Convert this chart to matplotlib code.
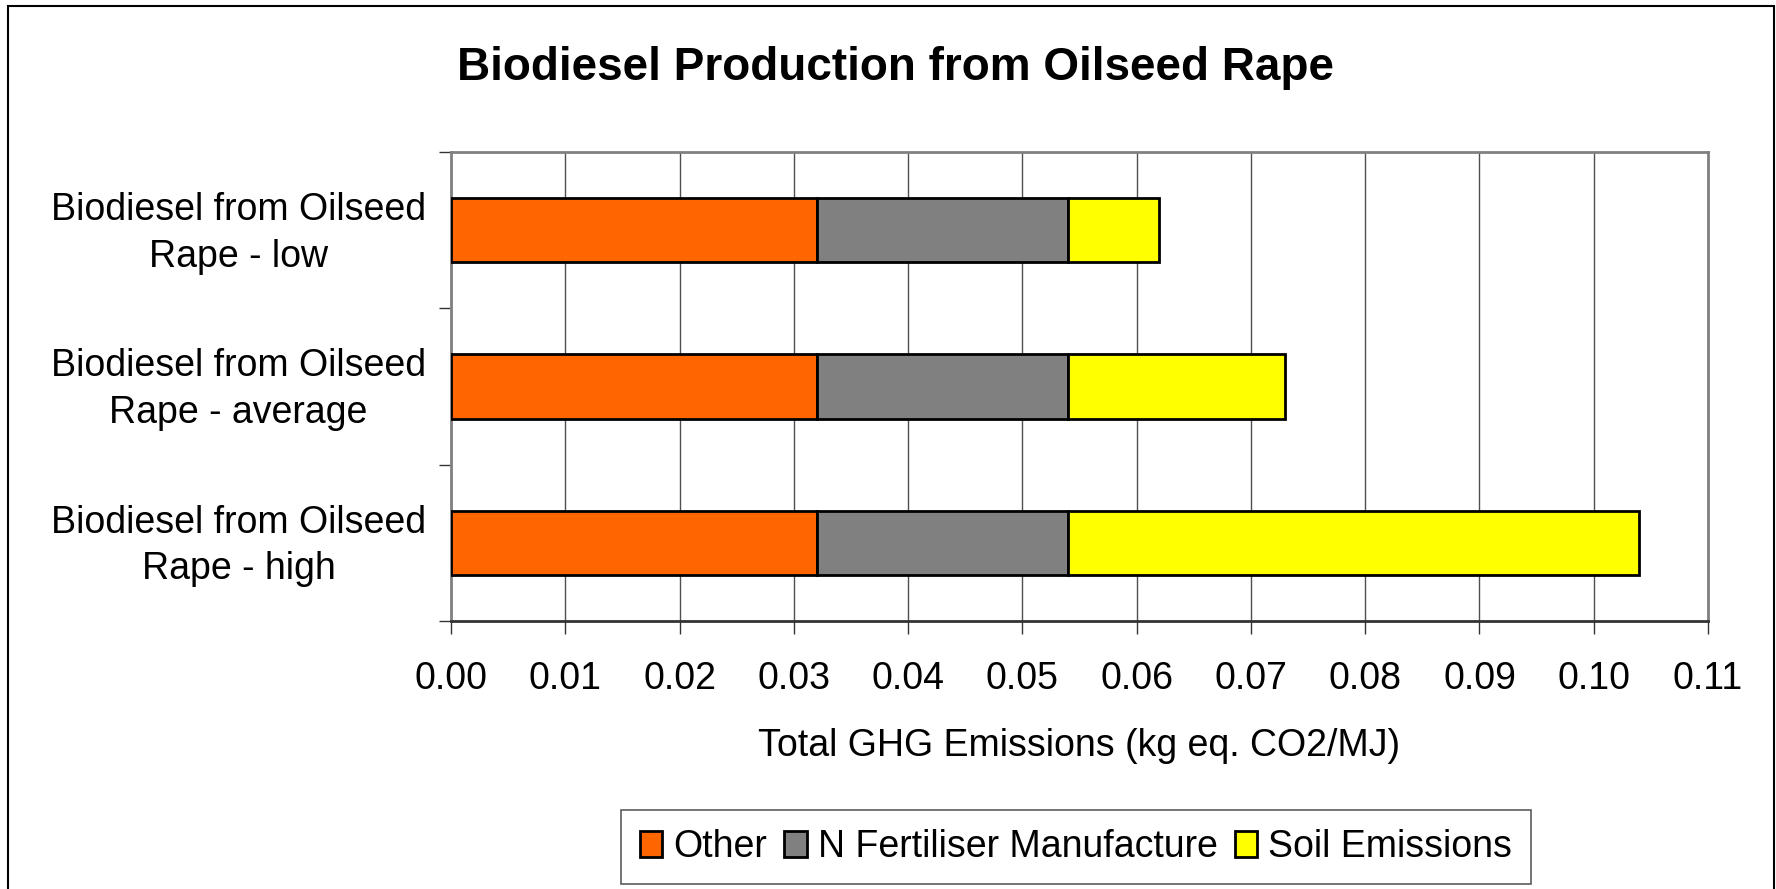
import matplotlib
matplotlib.use("Agg")
import matplotlib.pyplot as plt
import matplotlib.transforms as mtransforms
import numpy as np

plt.rcParams['font.family'] = ['Liberation Sans', 'DejaVu Sans']

categories = ["Biodiesel from Oilseed\nRape - low",
              "Biodiesel from Oilseed\nRape - average",
              "Biodiesel from Oilseed\nRape - high"]
series_names = ["Other", "N Fertiliser Manufacture", "Soil Emissions"]
other = [0.032, 0.032, 0.032]
n_fert = [0.022, 0.022, 0.022]
soil = [0.008, 0.019, 0.050]
colors = ["#FF6600", "#808080", "#FFFF00"]
xticks = [0.00, 0.01, 0.02, 0.03, 0.04, 0.05, 0.06, 0.07, 0.08, 0.09, 0.10, 0.11]

W, H = 1776, 889
fig = plt.figure(figsize=(W / 100, H / 100), dpi=100)
ax = fig.add_axes([451 / W, 1 - 621 / H, (1708 - 451) / W, (621 - 152) / H])

y = np.arange(len(categories))[::-1]
left = np.zeros(len(categories))
for name, vals, c in zip(series_names, [other, n_fert, soil], colors):
    ax.barh(y, vals, left=left, height=0.41, color=c, edgecolor='black',
            linewidth=2.0, label=name, zorder=3)
    left = left + np.array(vals)

ax.set_xlim(0, 0.11)
ax.set_ylim(-0.5, len(categories) - 0.5)
ax.set_xticks(xticks)
ax.set_xticklabels([f"{v:.2f}" for v in xticks], fontsize=27)
ax.tick_params(axis='x', direction='out', length=9, width=1, color='#333333', pad=20)

ax.set_yticks(np.arange(len(categories) + 1) - 0.5)
ax.set_yticklabels([])
ax.tick_params(axis='y', which='major', direction='out', length=9, width=1, color='#333333')
ax.set_yticks(y, minor=True)
ax.set_yticklabels(categories, minor=True, fontsize=27, ha='center', linespacing=1.38)
ax.tick_params(axis='y', which='minor', length=0, pad=153)
shift = mtransforms.ScaledTranslation(0, 0.06, fig.dpi_scale_trans)
for lab in ax.get_yticklabels(minor=True):
    lab.set_transform(lab.get_transform() + shift)

ax.xaxis.grid(True, color='#505050', linewidth=1.0, zorder=0)
ax.set_axisbelow(True)

for s in ['top', 'right', 'left']:
    ax.spines[s].set_color('#808080')
    ax.spines[s].set_linewidth(2)
ax.spines['bottom'].set_color('#333333')
ax.spines['bottom'].set_linewidth(2)

ax.set_xlabel("Total GHG Emissions (kg eq. CO2/MJ)", fontsize=27, va='center')
ax.xaxis.set_label_coords(0.5, (621 - 746) / (621 - 152))

fig.text(895 / W, 1 - 68 / H, "Biodiesel Production from Oilseed Rape",
         fontsize=33, fontweight='bold', ha='center', va='center')

leg = fig.legend(loc='center', bbox_to_anchor=(1076 / W, 1 - 847 / H), ncol=3,
                 fontsize=27, frameon=True, fancybox=False, edgecolor='#333333',
                 handlelength=0.6, handleheight=0.7, handletextpad=0.3,
                 columnspacing=0.45, borderpad=0.5, borderaxespad=0)
leg.get_frame().set_linewidth(1.2)

# figure border
from matplotlib.patches import Rectangle
fig.patches.append(Rectangle((8 / W, -0.05), (1774 - 8) / W, 1.05 - 6 / H,
                             transform=fig.transFigure, fill=False,
                             edgecolor='black', linewidth=1.5))

fig.savefig("out.png", dpi=100)
